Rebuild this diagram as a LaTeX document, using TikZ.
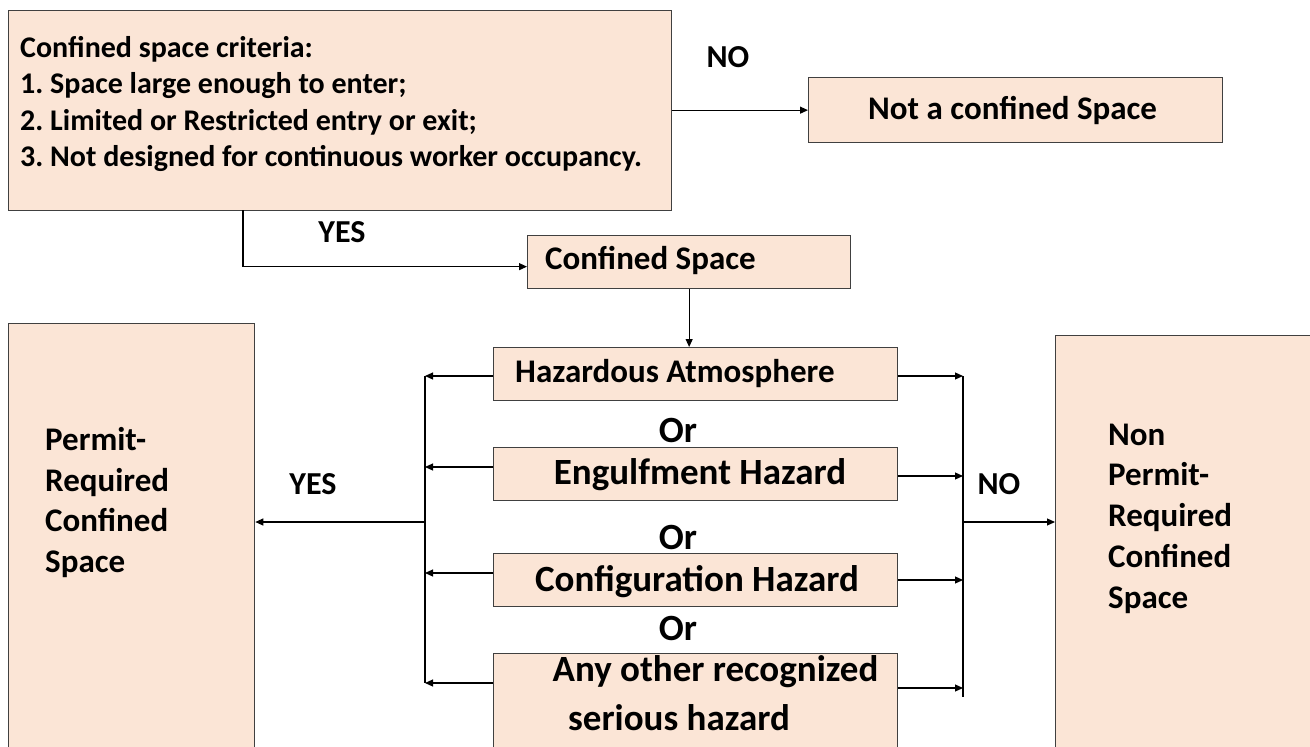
\documentclass[tikz,border=0pt]{standalone}
\usepackage{fontspec}
\setmainfont{Carlito}
\usetikzlibrary{arrows.meta}
\definecolor{boxfill}{HTML}{FBE5D6}
\definecolor{boxline}{HTML}{404040}
\frenchspacing
\begin{document}
\begin{tikzpicture}[x=1pt,y=-1pt,
  box/.style={draw=boxline, fill=boxfill, line width=1.3pt, inner sep=0pt, anchor=north west},
  txt/.style={inner sep=0pt, font=\bfseries},
  lbl/.style={inner sep=0pt, font=\bfseries\fontsize{32}{38}\selectfont},
  big/.style={inner sep=0pt, font=\bfseries\fontsize{37}{45}\selectfont},
  conn/.style={line width=1.1pt, -{Triangle[length=8pt,width=7pt]}},
  wire/.style={line width=1.1pt}]
\useasboundingbox (0,0) rectangle (1310,747);
\clip (0,0) rectangle (1310,747);

% boxes
\node[box, minimum width=663pt, minimum height=200pt] (crit) at (8,10) {};
\node[box, minimum width=414pt, minimum height=65pt] (notcs) at (808,77) {};
\node[box, minimum width=323pt, minimum height=53pt] (cs) at (527,235) {};
\node[box, minimum width=404pt, minimum height=53pt] (haz1) at (493,347) {};
\node[box, minimum width=404pt, minimum height=53pt] (haz2) at (493,447) {};
\node[box, minimum width=404pt, minimum height=53pt] (haz3) at (493,553) {};
\node[box, minimum width=404pt, minimum height=110pt] (haz4) at (493,653) {};
\node[box, minimum width=246pt, minimum height=440pt] (prcs) at (8,323) {};
\node[box, minimum width=270pt, minimum height=430pt] (npcs) at (1055,335) {};

% texts
\node[txt, anchor=west, align=left, font=\bfseries\fontsize{30}{36.5}\selectfont] (crittxt) at (20,104)
  {Confined space criteria:\\1. Space large enough to enter;\\2. Limited or Restricted entry or exit;\\3. Not designed for continuous worker occupancy.};
\node[txt, anchor=west, font=\bfseries\fontsize{33}{40}\selectfont] (notcstxt) at (868,110) {Not a confined Space};
\node[txt, anchor=west, font=\bfseries\fontsize{33}{40}\selectfont] (cstxt) at (545,260) {Confined Space};
\node[txt, anchor=west, font=\bfseries\fontsize{33}{40}\selectfont] (haz1txt) at (515,374) {Hazardous Atmosphere};
\node[big] (haz2txt) at (700,475) {Engulfment Hazard};
\node[big] (haz3txt) at (697,582) {Configuration Hazard};
\node[big] (haz4txta) at (715.5,672) {Any other recognized};
\node[big] (haz4txtb) at (679,718) {serious hazard};
\node[txt, anchor=west, align=left, font=\bfseries\fontsize{33}{40.4}\selectfont] (prcstxt) at (45,502.5)
  {Permit-\\Required\\Confined\\Space};
\node[txt, anchor=west, align=left, font=\bfseries\fontsize{33}{40.7}\selectfont] (npcstxt) at (1108,518.5)
  {Non\\Permit-\\Required\\Confined\\Space};

% labels
\node[lbl] (lno1) at (728,57) {NO};
\node[lbl] (lyes1) at (342,232) {YES};
\node[lbl] (lyes2) at (313,484) {YES};
\node[lbl] (lno2) at (999,484) {NO};
\node[big] (or1) at (678,430) {Or};
\node[big] (or2) at (678,537) {Or};
\node[big] (or3) at (678,628) {Or};

% connectors top
\draw[conn] (crit.east |- notcs.west) -- (notcs.west);
\coordinate (yesstart) at (243,210);
\draw[conn] (yesstart) |- ([yshift=-4.5pt]cs.west);
\draw[conn] (cs.south) -- (cs.south |- haz1.north);

% left bus
\coordinate (lb1) at (425,376);
\coordinate (lb2) at (425,467);
\coordinate (lb3) at (425,573);
\coordinate (lb4) at (425,683);
\coordinate (lbm) at (425,522);
\draw[wire] (lb1) -- (lb4);
\draw[conn] (haz1.west |- lb1) -- (lb1);
\draw[conn] (haz2.west |- lb2) -- (lb2);
\draw[conn] (haz3.west |- lb3) -- (lb3);
\draw[conn] (haz4.west |- lb4) -- (lb4);
\draw[conn] (lbm) -- (prcs.east |- lbm);

% right bus
\coordinate (rb1) at (963,376);
\coordinate (rb2) at (963,476);
\coordinate (rb3) at (963,580);
\coordinate (rb4) at (963,688);
\coordinate (rbm) at (963,522);
\draw[wire] (rb1) -- (963,697);
\draw[conn] (haz1.east |- rb1) -- (rb1);
\draw[conn] (haz2.east |- rb2) -- (rb2);
\draw[conn] (haz3.east |- rb3) -- (rb3);
\draw[conn] (haz4.east |- rb4) -- (rb4);
\draw[conn] (rbm) -- (npcs.west |- rbm);
\end{tikzpicture}
\end{document}
